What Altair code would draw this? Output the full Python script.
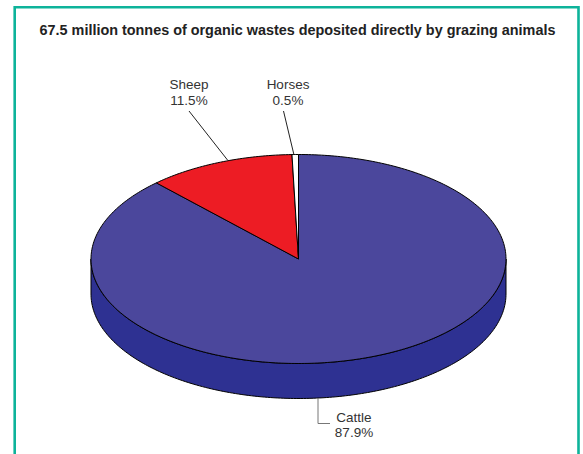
import numpy as np
import pandas as pd
import altair as alt

# Shares of organic waste by animal, clockwise from twelve o'clock
animals = ["Cattle", "Sheep", "Horses"]
shares = [87.9, 11.5, 0.5]
top_colors = ["#4B479C", "#ED1C24", "#FFFFFF"]
side_color = "#2E3192"
frame_color = "#0DB39A"
ink = "#333333"

title_text = "67.5 million tonnes of organic wastes deposited directly by grazing animals"
label_lines = [
    ("Sheep", 189, 85), ("11.5%", 189, 100.5),
    ("Horses", 288, 85), ("0.5%", 288, 100.5),
    ("Cattle", 354, 417.5), ("87.9%", 354, 433),
]
leaders = {
    "sheep": ([189, 227.5], [111, 160], "#222222"),
    "horses": ([283.5, 294], [111, 155], "#222222"),
    "cattle": ([318, 318, 330], [398, 423.5, 423.5], "#777777"),
}

W, H = 583, 454
CX, CY, RX, RY, DEPTH = 298.5, 259.0, 207.5, 104.5, 35.0
x_enc = alt.X("x:Q", scale=alt.Scale(domain=[0, W], nice=False, zero=False), axis=None)
y_enc = alt.Y("y:Q", scale=alt.Scale(domain=[0, H], reverse=True, nice=False, zero=False), axis=None)


def outline(xs, ys, fill, stroke="#000000", width=1.0):
    frame = pd.DataFrame({"x": xs, "y": ys, "i": range(len(xs))})
    return alt.Chart(frame).mark_line(
        fill=fill, stroke=stroke, strokeWidth=width, interpolate="linear",
        strokeJoin="round", clip=False,
    ).encode(x=x_enc, y=y_enc, order="i:Q")


def wedge(start, end):
    # Share positions (percent, clockwise from the top) traced around the tilted disc
    t = np.radians(np.linspace(start, end, max(3, int((end - start) * 4))) * 3.6)
    xs = CX + RX * np.sin(t)
    ys = CY - RY * np.cos(t)
    return [CX, *xs, CX], [CY, *ys, CY]


layers = []

# Rim of the disc: the visible lower half, dropped by the depth
t = np.radians(np.linspace(90, 270, 200))
rim_x = CX + RX * np.sin(t)
rim_top = CY - RY * np.cos(t)
layers.append(outline(
    [*rim_x, *rim_x[::-1], rim_x[0]],
    [*(rim_top + DEPTH), *rim_top[::-1], rim_top[0] + DEPTH],
    side_color,
))

# Top face of the disc, one wedge per animal
start = 0.0
scale_total = sum(shares)
for share, color in zip(shares, top_colors):
    end = start + share * 100 / scale_total
    xs, ys = wedge(start, end)
    layers.append(outline(xs, ys, color))
    start = end

# Leader lines from the labels to the slices
for xs, ys, color in leaders.values():
    frame = pd.DataFrame({"x": xs, "y": ys, "i": range(len(xs))})
    layers.append(
        alt.Chart(frame).mark_line(stroke=color, strokeWidth=1, interpolate="linear")
        .encode(x=x_enc, y=y_enc, order="i:Q")
    )

# Slice labels
labels = pd.DataFrame(label_lines, columns=["text", "x", "y"])
layers.append(
    alt.Chart(labels).mark_text(font="Liberation Sans", fontSize=13.5, color=ink, align="center", baseline="middle")
    .encode(x=x_enc, y=y_enc, text="text:N")
)

# Heading
heading = pd.DataFrame({"text": [title_text], "x": [297.5], "y": [30.5]})
layers.append(
    alt.Chart(heading).mark_text(font="Liberation Sans", fontSize=14.4, fontWeight="bold", color="#222222",
                                 align="center", baseline="middle")
    .encode(x=x_enc, y=y_enc, text="text:N")
)

# Page frame, open past the bottom edge
frame_x = [14.7, 14.7, 578.5, 578.5]
frame_y = [454, 7.3, 7.3, 454]
frame_df = pd.DataFrame({"x": frame_x, "y": frame_y, "i": range(4)})
layers.append(
    alt.Chart(frame_df).mark_line(stroke=frame_color, strokeWidth=2.6, interpolate="linear", strokeCap="butt")
    .encode(x=x_enc, y=y_enc, order="i:Q")
)

chart = alt.layer(*layers).properties(
    width=W, height=H, padding=0, autosize=alt.AutoSizeParams(type="none"),
    background="#FFFFFF",
).configure_view(stroke=None)

chart.save("out.html", embed_options={"renderer": "svg", "actions": False})
